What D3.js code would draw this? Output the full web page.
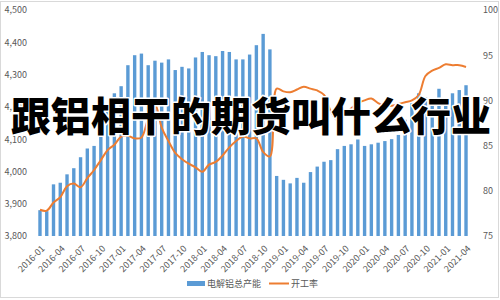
<!DOCTYPE html>
<html>
<head>
<meta charset="utf-8">
<script src="https://cdn.jsdelivr.net/npm/d3@7"></script>
<style>
  html, body { margin: 0; padding: 0; background: #fff; }
  svg { display: block; }
  text { font-family: "Noto Sans CJK SC", "Noto Sans", sans-serif; }
</style>
</head>
<body>
<svg id="chart" width="500" height="300"></svg>
<script>
// ---- data ----
const months = [];
for (let y = 2016; y <= 2021; y++) {
  for (let m = 1; m <= 12; m++) {
    if (y === 2021 && m > 4) break;
    months.push(y + "-" + String(m).padStart(2, "0"));
  }
}
const capacity = [
  3880, 3877, 3960, 3965, 3991, 4010, 4044, 4071, 4079, 4113, 4190, 4242,
  4264, 4329, 4360, 4365, 4329, 4343, 4337, 4347, 4314, 4324, 4319, 4353,
  4370, 4360, 4357, 4373, 4370, 4347, 4347, 4362, 4391, 4426, 4378, 3986,
  3974, 3963, 3980, 3965, 3998, 4015, 4030, 4035, 4069, 4079, 4084, 4099,
  4079, 4084, 4089, 4094, 4100, 4113, 4160, 4211, 4242, 4230, 4225, 4256,
  4225, 4242, 4252, 4267
];
const utilization = [
  77.9, 77.8, 78.7, 79.3, 80.5, 80.8, 80.4, 81.4, 82.3, 83.4, 84.5, 85.1,
  86.0, 86.1, 85.8, 85.9, 88.0, 89.6, 87.0, 85.5, 84.2, 83.5, 83.0, 82.6,
  82.1, 82.9, 83.2, 83.9, 84.8, 85.5, 86.0, 85.8, 85.8, 84.3, 83.8, 91.3,
  91.0, 90.9, 91.2, 91.5, 91.3, 91.1, 90.6, 88.8, 87.8, 88.3, 89.1, 89.7,
  90.0, 90.2, 89.7, 89.4, 89.4, 89.6, 89.8, 90.0, 90.6, 92.7, 93.3, 93.6,
  94.0, 93.9, 93.9, 93.7
];
const leftTicks = [3800, 3900, 4000, 4100, 4200, 4300, 4400, 4500];
const rightTicks = [75, 80, 85, 90, 95, 100];
const xTickLabels = months.filter((d, i) => i % 3 === 0);
const seriesNames = ["电解铝总产能", "开工率"];
const title = "跟铝相干的期货叫什么行业";

// ---- chart ----
const svg = d3.select("#chart");
const textColor = "#595959";
const barColor = "#5B9BD5";
const lineColor = "#ED7D31";

svg.append("rect").attr("x", 0.5).attr("y", 1.5).attr("width", 498).attr("height", 296)
  .attr("fill", "#fff").attr("stroke", "#d9d9d9");

const x = d3.scaleBand().domain(months).range([36.6, 469.4])
  .paddingInner(0.5).paddingOuter(0.25);
const yL = d3.scaleLinear().domain([3800, 4500]).range([236, 10]);
const yR = d3.scaleLinear().domain([75, 100]).range([236, 10]);

// bars
svg.append("g").selectAll("rect").data(capacity).join("rect")
  .attr("x", (d, i) => x(months[i]))
  .attr("width", x.bandwidth())
  .attr("y", d => yL(d))
  .attr("height", d => yL(3800) - yL(d))
  .attr("fill", barColor);

// line
const line = d3.line()
  .x((d, i) => x(months[i]) + x.bandwidth() / 2)
  .y(d => yR(d))
  .curve(d3.curveCatmullRom.alpha(0.5));
svg.append("path").datum(utilization)
  .attr("d", line).attr("fill", "none")
  .attr("stroke", lineColor).attr("stroke-width", 2);

// left axis
const gL = svg.append("g").attr("transform", "translate(30,0)")
  .call(d3.axisLeft(yL).tickValues(leftTicks).tickFormat(d3.format(",")).tickSize(0).tickPadding(3));
gL.select(".domain").remove();
gL.selectAll("text").attr("fill", textColor).style("font-size", "9px");

// right axis
const gR = svg.append("g").attr("transform", "translate(480,0)")
  .call(d3.axisRight(yR).tickValues(rightTicks).tickSize(0).tickPadding(3));
gR.select(".domain").remove();
gR.selectAll("text").attr("fill", textColor).style("font-size", "9px");

// x axis
const gX = svg.append("g").attr("transform", "translate(0,236)")
  .call(d3.axisBottom(x).tickValues(xTickLabels).tickSize(0));
gX.select(".domain").remove();
gX.selectAll("text")
  .attr("fill", textColor).style("font-size", "9px")
  .attr("x", 0).attr("y", 0).attr("dy", "0.35em")
  .attr("text-anchor", "end")
  .attr("transform", "translate(3,11) rotate(-45)");

// legend
const lg = svg.append("g");
lg.append("rect").attr("x", 187).attr("y", 281).attr("width", 18).attr("height", 5).attr("fill", barColor);
lg.append("text").attr("x", 207).attr("y", 283.5).attr("dy", "0.35em")
  .attr("fill", textColor).style("font-size", "9px").text(seriesNames[0]);
lg.append("line").attr("x1", 269).attr("x2", 289).attr("y1", 283.5).attr("y2", 283.5)
  .attr("stroke", lineColor).attr("stroke-width", 2);
lg.append("text").attr("x", 291).attr("y", 283.5).attr("dy", "0.35em")
  .attr("fill", textColor).style("font-size", "9px").text(seriesNames[1]);

// title overlay
svg.append("text").attr("x", 251).attr("y", 131)
  .attr("text-anchor", "middle")
  .style("font-family", '"Noto Sans CJK SC", sans-serif')
  .style("font-size", "40px").style("font-weight", 900)
  .attr("fill", "#000").attr("stroke", "#fff").attr("stroke-width", 3)
  .attr("paint-order", "stroke").attr("stroke-linejoin", "round")
  .text(title);
</script>
</body>
</html>
